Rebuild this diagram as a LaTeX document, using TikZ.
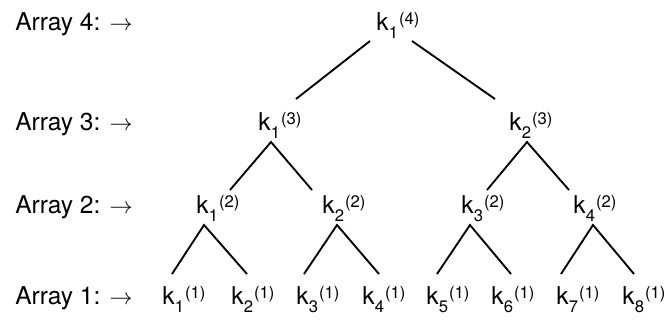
\documentclass[tikz,border=0pt]{standalone}
\usepackage{fontspec}
\setmainfont{TeX Gyre Heros}
\usetikzlibrary{calc}
\newcommand\kvar[2]{k\kern0.3pt\raisebox{-6pt}{\fontsize{12.5}{13}\selectfont #1}\kern0.6pt\raisebox{4.5pt}{\fontsize{12.5}{13}\selectfont (#2)}}
\begin{document}
\begin{tikzpicture}[x=0.75pt,y=-0.75pt,
  lab/.style={anchor=base west,inner sep=0pt,font=\fontsize{18.4}{22}\selectfont},
  key/.style={anchor=base west,inner sep=0pt,font=\fontsize{18.4}{22}\selectfont},
  edge/.style={line width=1.4pt}]
\useasboundingbox (0,0) rectangle (668,322);
% row labels
\node[lab] (L4) at (15,30) {Array 4: $\rightarrow$};
\node[lab] (L3) at (15,130) {Array 3: $\rightarrow$};
\node[lab] (L2) at (15,213) {Array 2: $\rightarrow$};
\node[lab] (L1) at (15,304) {Array 1: $\rightarrow$};
% keys
\node[key] (r4) at (376,30) {\kvar{1}{4}};
\node[key] (r3a) at (258,130) {\kvar{1}{3}};
\node[key] (r3b) at (509,130) {\kvar{2}{3}};
\node[key] (r2a) at (196,213) {\kvar{1}{2}};
\node[key] (r2b) at (322,213) {\kvar{2}{2}};
\node[key] (r2c) at (461,213) {\kvar{3}{2}};
\node[key] (r2d) at (573,213) {\kvar{4}{2}};
\node[key] (r1a) at (162,304) {\kvar{1}{1}};
\node[key] (r1b) at (231,304) {\kvar{2}{1}};
\node[key] (r1c) at (296,304) {\kvar{3}{1}};
\node[key] (r1d) at (362,304) {\kvar{4}{1}};
\node[key] (r1e) at (426,304) {\kvar{5}{1}};
\node[key] (r1f) at (491,304) {\kvar{6}{1}};
\node[key] (r1g) at (556,304) {\kvar{7}{1}};
\node[key] (r1h) at (622,304) {\kvar{8}{1}};
% edges: array 4 -> array 3
\draw[edge] ($(r4.base west)+(-6,11)$) -- ($(r3a.base west)+(38,-31)$);
\draw[edge] ($(r4.base west)+(36,11)$) -- ($(r3b.base west)+(-14,-31)$);
% array 3 -> array 2
\draw[edge] ($(r2a.base west)+(34,-23)$) -- ($(r3a.base west)+(13,12)$) -- ($(r2b.base west)+(-10,-23)$);
\draw[edge] ($(r2c.base west)+(26,-23)$) -- ($(r3b.base west)+(18,12)$) -- ($(r2d.base west)+(-4,-23)$);
% array 2 -> array 1
\draw[edge] ($(r1a.base west)+(10,-30)$) -- ($(r2a.base west)+(8,12)$) -- ($(r1b.base west)+(16,-30)$);
\draw[edge] ($(r1c.base west)+(8,-30)$) -- ($(r2b.base west)+(15,12)$) -- ($(r1d.base west)+(17,-30)$);
\draw[edge] ($(r1e.base west)+(11,-30)$) -- ($(r2c.base west)+(9,12)$) -- ($(r1f.base west)+(20,-30)$);
\draw[edge] ($(r1g.base west)+(5,-30)$) -- ($(r2d.base west)+(20,12)$) -- ($(r1h.base west)+(12,-30)$);
\end{tikzpicture}
\end{document}
